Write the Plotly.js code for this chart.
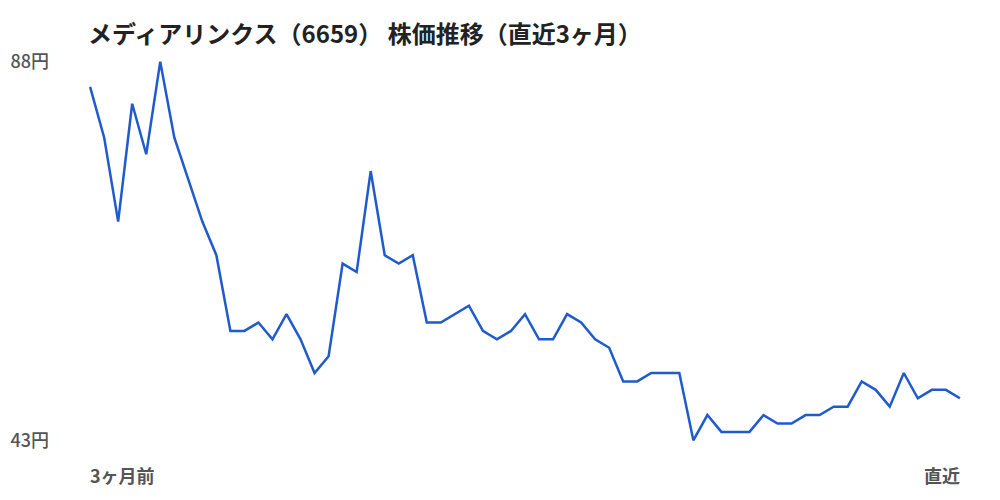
<!DOCTYPE html>
<html>
<head>
<meta charset="utf-8">
<script src="https://cdn.plot.ly/plotly-3.0.1.min.js"></script>
<style>
  html, body { margin: 0; padding: 0; background: #fff; }
  #chart { width: 1000px; height: 500px; }
</style>
</head>
<body>
<div id="chart"></div>
<script>
// 直近3ヶ月の終値（円）
var prices = [
	85, 79, 69, 83, 77, 88, 79, 74, 69, 65,
	56, 56, 57, 55, 58, 55, 51, 53, 64, 63,
	75, 65, 64, 65, 57, 57, 58, 59, 56, 55,
	56, 58, 55, 55, 58, 57, 55, 54, 50, 50,
	51, 51, 51, 43, 46, 44, 44, 44, 46, 45,
	45, 46, 46, 47, 47, 50, 49, 47, 51, 48,
	49, 49, 48
];
var days = prices.map(function(p, i) { return i; });

var yTickVals = [43, 88];
var yTickText = ['43円', '88円'];
var xLabelStart = '3ヶ月前';
var xLabelEnd = '直近';
var titleText = 'メディアリンクス（6659） 株価推移（直近3ヶ月）';

var font = '"Noto Sans CJK JP", "Noto Sans", sans-serif';

var trace = {
	x: days,
	y: prices,
	type: 'scatter',
	mode: 'lines',
	line: { color: '#1f5bcc', width: 2.5 },
	hoverinfo: 'y'
};

var layout = {
	width: 1000,
	height: 500,
	margin: { l: 88, r: 38, t: 60, b: 58 },
	paper_bgcolor: '#fff',
	plot_bgcolor: '#fff',
	showlegend: false,
	font: { family: font, color: '#555', size: 18 },
	title: {
		text: '<b>' + titleText + '</b>',
		font: { family: font, size: 24, color: '#222' },
		xref: 'paper',
		x: 0,
		xanchor: 'left',
		yref: 'container',
		y: 0.93,
		yanchor: 'middle'
	},
	xaxis: {
		range: [-0.15, days.length - 1 + 0.15],
		showgrid: false,
		zeroline: false,
		showline: false,
		showticklabels: false,
		ticks: ''
	},
	yaxis: {
		range: [42.8, 88.2],
		tickvals: yTickVals,
		ticktext: yTickText,
		showgrid: false,
		zeroline: false,
		showline: false,
		ticks: '',
		ticklabelstandoff: 38,
		tickfont: { family: font, size: 18, color: '#555', weight: 500 }
	},
	annotations: [
		{
			text: '<b>' + xLabelStart + '</b>',
			x: 0, xref: 'x', xanchor: 'left', xshift: -2,
			y: 0, yref: 'paper', yanchor: 'middle', yshift: -33,
			showarrow: false,
			font: { family: font, size: 18, color: '#555' }
		},
		{
			text: '<b>' + xLabelEnd + '</b>',
			x: days.length - 1, xref: 'x', xanchor: 'right', xshift: 2,
			y: 0, yref: 'paper', yanchor: 'middle', yshift: -33,
			showarrow: false,
			font: { family: font, size: 18, color: '#555' }
		}
	]
};

Plotly.newPlot('chart', [trace], layout, { displayModeBar: false, staticPlot: true });
</script>
</body>
</html>
